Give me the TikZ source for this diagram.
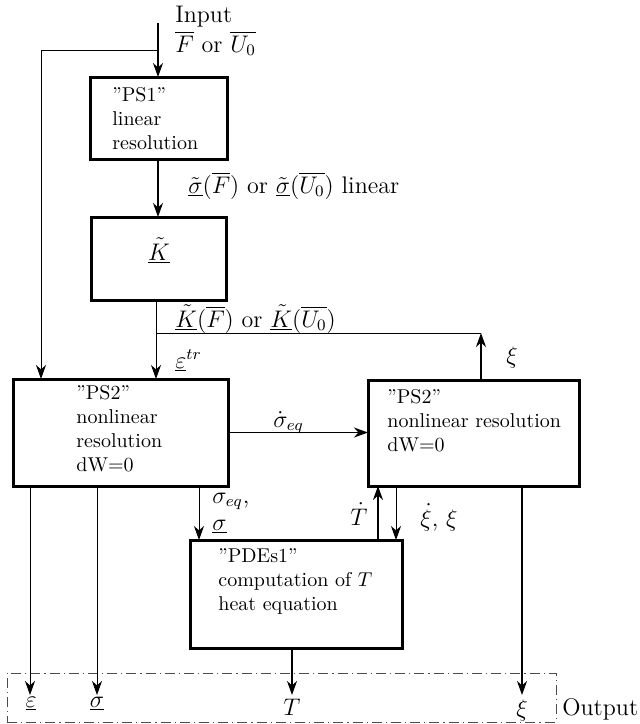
\documentclass[tikz,border=0pt]{standalone}
\usetikzlibrary{arrows.meta}
\begin{document}
\begin{tikzpicture}[x=0.5pt,y=-0.5pt,
  box/.style={draw, line width=1.5pt, inner sep=0pt, outer sep=0pt},
  btxt/.style={anchor=north west, inner sep=0pt, align=left, font=\normalsize},
  lbl/.style={anchor=base west, inner sep=0pt, font=\large},
  olbl/.style={anchor=base, inner sep=0pt, font=\large},
  arr/.style={-{Stealth[length=7pt,width=5pt,inset=2.2pt]}, line width=0.8pt},
  tarr/.style={-{Stealth[length=7pt,width=5pt,inset=2.2pt]}, line width=0.45pt},
  tline/.style={line width=0.45pt},
  outbox/.style={draw, line width=0.45pt, black!70, dash pattern=on 5pt off 2pt on 0.6pt off 2pt}
]
\useasboundingbox (0,0) rectangle (640,724);

% boxes
\node[box, minimum width=68.5pt, minimum height=41pt] (ps1) at (158.5,118) {};
\node[box, minimum width=67.5pt, minimum height=41.5pt] (K) at (158.5,258.5) {};
\node[box, minimum width=107.5pt, minimum height=53.5pt] (ps2a) at (120.5,432.5) {};
\node[box, minimum width=105.5pt, minimum height=53pt] (ps2b) at (473.5,433) {};
\node[box, minimum width=106pt, minimum height=54pt] (pde) at (296,594) {};
\node[outbox, minimum width=274.5pt, minimum height=24.5pt, inner sep=0pt] (out) at (281.5,697.5) {};

% box texts
\node[btxt] (t1) at (112,87) {''PS1''\\linear\\resolution};
\node[font=\large, inner sep=0pt] (tK) at (159,251) {$\underline{\tilde{K}}$};
\node[btxt] (t2) at (76,385) {''PS2''\\nonlinear\\resolution\\dW=0};
\node[btxt] (t3) at (387,389) {''PS2''\\nonlinear resolution\\dW=0};
\node[btxt] (t4) at (218,548) {''PDEs1''\\computation of $T$\\heat equation};

% labels
\node[lbl] (in1) at (175,22) {Input};
\node[lbl] (in2) at (175,52) {$\overline{F}$ or $\overline{U_0}$};
\node[lbl] (l1) at (188,193) {$\underline{\tilde{\sigma}}(\overline{F})$ or $\underline{\tilde{\sigma}}(\overline{U_0})$ linear};
\node[lbl] (l2) at (175,327) {$\underline{\tilde{K}}(\overline{F})$ or $\underline{\tilde{K}}(\overline{U_0})$};
\node[lbl] (l3) at (175,368) {$\underline{\varepsilon}^{tr}$};
\node[lbl] (l4) at (506,363) {$\xi$};
\node[lbl] (l5) at (273,427) {$\dot{\sigma}_{eq}$};
\node[lbl] (l6) at (212,503) {$\sigma_{eq}$,};
\node[lbl] (l7) at (212,530) {$\underline{\sigma}$};
\node[lbl] (l8) at (350,525) {$\dot{T}$};
\node[lbl] (l9) at (420,526) {$\dot{\xi}$, $\xi$};
\node[olbl] (o1) at (31,707) {$\underline{\varepsilon}$};
\node[olbl] (o2) at (97,707) {$\underline{\sigma}$};
\node[olbl] (o3) at (292,715) {$T$};
\node[olbl] (o4) at (522,716) {$\xi$};
\node[lbl] (o5) at (562,715) {Output};

% coordinates
\coordinate (inp) at (158,23);
\coordinate (br1) at (158,50);
\coordinate (lc) at (41,50);
\coordinate (br2) at (156,333);
\coordinate (br3) at (481,333);
\coordinate (xs) at (199,0);
\coordinate (xT) at (378,0);
\coordinate (xx) at (396,0);
\coordinate (e1) at (30,695);
\coordinate (e2) at (97,695);
\coordinate (e3) at (292,695);
\coordinate (e4) at (522,695);

% connectors
\draw[arr] (inp) -- (ps1.north -| inp);
\draw[tarr] (br1) -- (lc) -- (lc |- ps2a.north);
\draw[arr] (ps1.south -| inp) -- (K.north -| inp);
\draw[tarr] (K.south -| br2) -- (br2 |- ps2a.north);
\draw[tline] (br2) -- (br3);
\draw[arr] (br3 |- ps2b.north) -- (br3);
\draw[arr] (ps2a.east) -- (ps2a.east -| ps2b.west);
\draw[tarr] (ps2a.south -| xs) -- (pde.north -| xs);
\draw[arr] (pde.north -| xT) -- (ps2b.south -| xT);
\draw[tarr] (ps2b.south -| xx) -- (pde.north -| xx);
\draw[tarr] (ps2a.south -| e1) -- (e1);
\draw[tarr] (ps2a.south -| e2) -- (e2);
\draw[arr] (pde.south -| e3) -- (e3);
\draw[arr] (ps2b.south -| e4) -- (e4);
\end{tikzpicture}
\end{document}
